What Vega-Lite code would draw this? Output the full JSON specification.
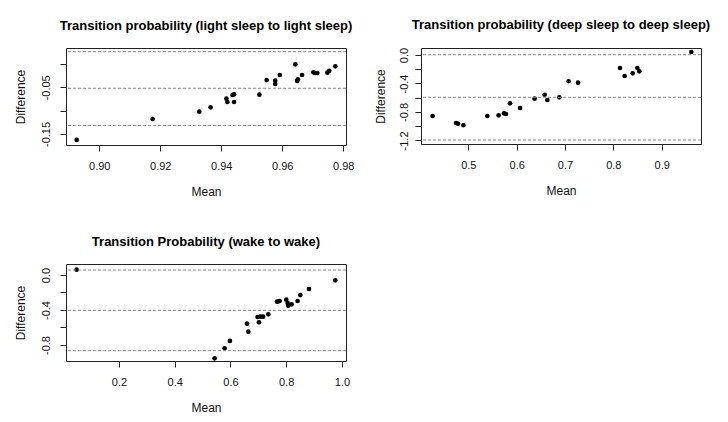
{
  "$schema": "https://vega.github.io/schema/vega-lite/v6.json",
  "autosize": {"type": "pad"},
  "padding": {"left": 13, "top": 18, "right": 5, "bottom": 5},
  "background": "white",
  "bounds": "flush",
  "columns": 2,
  "spacing": {"row": 119, "column": 75},
  "concat": [
    {
      "width": 280,
      "height": 97,
      "title": {"text": "Transition probability (light sleep to light sleep)", "frame": "group", "anchor": "middle", "offset": 5, "baseline": "alphabetic"},
      "resolve": {"axis": {"y": "independent"}},
      "layer": [
        {
          "data": {"values": [
            {"mean": 0.8926, "diff": -0.1628},
            {"mean": 0.9175, "diff": -0.1179},
            {"mean": 0.9328, "diff": -0.1022},
            {"mean": 0.9365, "diff": -0.0928},
            {"mean": 0.9417, "diff": -0.0744},
            {"mean": 0.9420, "diff": -0.0814},
            {"mean": 0.9437, "diff": -0.0664},
            {"mean": 0.9442, "diff": -0.0649},
            {"mean": 0.9442, "diff": -0.0814},
            {"mean": 0.9525, "diff": -0.0658},
            {"mean": 0.9549, "diff": -0.0343},
            {"mean": 0.9577, "diff": -0.0358},
            {"mean": 0.9577, "diff": -0.0429},
            {"mean": 0.9592, "diff": -0.0236},
            {"mean": 0.9643, "diff": -0.0006},
            {"mean": 0.9649, "diff": -0.0364},
            {"mean": 0.9651, "diff": -0.0328},
            {"mean": 0.9665, "diff": -0.0236},
            {"mean": 0.9702, "diff": -0.0178},
            {"mean": 0.9708, "diff": -0.0193},
            {"mean": 0.9715, "diff": -0.0193},
            {"mean": 0.9748, "diff": -0.0186},
            {"mean": 0.9754, "diff": -0.0144},
            {"mean": 0.9774, "diff": -0.0049}
          ]},
          "mark": {"type": "circle", "size": 22, "opacity": 1, "color": "#000"},
          "encoding": {
            "x": {"field": "mean", "type": "quantitative", "scale": {"domain": [0.8891, 0.9809], "nice": false, "zero": false},
                  "axis": {"title": "Mean", "values": [0.9, 0.92, 0.94, 0.96, 0.98], "format": ".2f", "labelOverlap": false, "labelFlush": false}},
            "y": {"field": "diff", "type": "quantitative", "scale": {"domain": [-0.1736, 0.0343], "nice": false, "zero": false},
                  "axis": {"orient": "left", "title": "Difference", "titleX": -42, "titleY": 48.5, "labels": false, "values": [0, -0.05, -0.1, -0.15]}}
          }
        },
        {
          "data": {"values": [{"diff": 0.0264}, {"diff": -0.052}, {"diff": -0.132}]},
          "mark": {"type": "rule", "strokeDash": [3, 2], "color": "#888", "strokeWidth": 1},
          "encoding": {"y": {"field": "diff", "type": "quantitative",
                  "axis": {"orient": "left", "title": null, "ticks": false, "labelPadding": 17, "values": [-0.05, -0.15], "labelOverlap": false, "labelFlush": false, "labelBound": false,
                           "labelExpr": "abs(datum.value + 0.05) < 0.001 ? '-0.05' : abs(datum.value + 0.15) < 0.001 ? '-0.15' : ''"}}}
        }
      ]
    },
    {
      "width": 280,
      "height": 96,
      "title": {"text": "Transition probability (deep sleep to deep sleep)", "frame": "group", "anchor": "middle", "offset": 5, "baseline": "alphabetic"},
      "resolve": {"axis": {"y": "independent"}},
      "layer": [
        {
          "data": {"values": [
            {"mean": 0.4261, "diff": -0.857},
            {"mean": 0.4746, "diff": -0.955},
            {"mean": 0.4787, "diff": -0.965},
            {"mean": 0.4897, "diff": -0.987},
            {"mean": 0.5393, "diff": -0.857},
            {"mean": 0.5627, "diff": -0.847},
            {"mean": 0.5739, "diff": -0.819},
            {"mean": 0.5780, "diff": -0.829},
            {"mean": 0.5863, "diff": -0.678},
            {"mean": 0.6070, "diff": -0.744},
            {"mean": 0.6372, "diff": -0.614},
            {"mean": 0.6579, "diff": -0.558},
            {"mean": 0.6635, "diff": -0.632},
            {"mean": 0.6883, "diff": -0.594},
            {"mean": 0.7075, "diff": -0.369},
            {"mean": 0.7270, "diff": -0.389},
            {"mean": 0.8139, "diff": -0.183},
            {"mean": 0.8234, "diff": -0.295},
            {"mean": 0.8400, "diff": -0.257},
            {"mean": 0.8497, "diff": -0.183},
            {"mean": 0.8538, "diff": -0.229},
            {"mean": 0.9614, "diff": 0.042}
          ]},
          "mark": {"type": "circle", "size": 22, "opacity": 1, "color": "#000"},
          "encoding": {
            "x": {"field": "mean", "type": "quantitative", "scale": {"domain": [0.4021, 0.9814], "nice": false, "zero": false},
                  "axis": {"title": "Mean", "values": [0.5, 0.6, 0.7, 0.8, 0.9], "format": ".1f", "labelOverlap": false, "labelFlush": false}},
            "y": {"field": "diff", "type": "quantitative", "scale": {"domain": [-1.25, 0.0983], "nice": false, "zero": false},
                  "axis": {"orient": "left", "title": "Difference", "titleX": -37, "titleY": 48, "labels": false, "values": [0, -0.2, -0.4, -0.6, -0.8, -1, -1.2]}}
          }
        },
        {
          "data": {"values": [{"diff": 0.004}, {"diff": -0.594}, {"diff": -1.194}]},
          "mark": {"type": "rule", "strokeDash": [3, 2], "color": "#888", "strokeWidth": 1},
          "encoding": {"y": {"field": "diff", "type": "quantitative",
                  "axis": {"orient": "left", "title": null, "ticks": false, "labelPadding": 14, "values": [0, -0.4, -0.8, -1.2], "labelOverlap": false, "labelFlush": false, "labelBound": false,
                           "labelExpr": "abs(datum.value) < 0.001 ? '0.0' : abs(datum.value + 0.4) < 0.001 ? '-0.4' : abs(datum.value + 0.8) < 0.001 ? '-0.8' : abs(datum.value + 1.2) < 0.001 ? '-1.2' : ''"}}}
        }
      ]
    },
    {
      "width": 280,
      "height": 97,
      "title": {"text": "Transition Probability (wake to wake)", "frame": "group", "anchor": "middle", "offset": 5, "baseline": "alphabetic"},
      "resolve": {"axis": {"y": "independent"}},
      "layer": [
        {
          "data": {"values": [
            {"mean": 0.048, "diff": 0.061},
            {"mean": 0.976, "diff": -0.061},
            {"mean": 0.8816, "diff": -0.160},
            {"mean": 0.8504, "diff": -0.229},
            {"mean": 0.8407, "diff": -0.297},
            {"mean": 0.8192, "diff": -0.335},
            {"mean": 0.8074, "diff": -0.351},
            {"mean": 0.8050, "diff": -0.320},
            {"mean": 0.8002, "diff": -0.282},
            {"mean": 0.7762, "diff": -0.297},
            {"mean": 0.7668, "diff": -0.305},
            {"mean": 0.7726, "diff": -0.300},
            {"mean": 0.7356, "diff": -0.449},
            {"mean": 0.7166, "diff": -0.476},
            {"mean": 0.7069, "diff": -0.476},
            {"mean": 0.6972, "diff": -0.480},
            {"mean": 0.7022, "diff": -0.541},
            {"mean": 0.6592, "diff": -0.556},
            {"mean": 0.6639, "diff": -0.648},
            {"mean": 0.5980, "diff": -0.754},
            {"mean": 0.5790, "diff": -0.838},
            {"mean": 0.5430, "diff": -0.952}
          ]},
          "mark": {"type": "circle", "size": 22, "opacity": 1, "color": "#000"},
          "encoding": {
            "x": {"field": "mean", "type": "quantitative", "scale": {"domain": [0.0099, 1.0144], "nice": false, "zero": false},
                  "axis": {"title": "Mean", "values": [0.2, 0.4, 0.6, 0.8, 1.0], "format": ".1f", "labelOverlap": false, "labelFlush": false}},
            "y": {"field": "diff", "type": "quantitative", "scale": {"domain": [-0.983, 0.1257], "nice": false, "zero": false},
                  "axis": {"orient": "left", "title": "Difference", "titleX": -42, "titleY": 48.5, "labels": false, "values": [0, -0.2, -0.4, -0.6, -0.8]}}
          }
        },
        {
          "data": {"values": [{"diff": 0.057}, {"diff": -0.404}, {"diff": -0.865}]},
          "mark": {"type": "rule", "strokeDash": [3, 2], "color": "#888", "strokeWidth": 1},
          "encoding": {"y": {"field": "diff", "type": "quantitative",
                  "axis": {"orient": "left", "title": null, "ticks": false, "labelPadding": 17, "values": [0, -0.4, -0.8], "labelOverlap": false, "labelFlush": false, "labelBound": false,
                           "labelExpr": "abs(datum.value) < 0.001 ? '0.0' : abs(datum.value + 0.4) < 0.001 ? '-0.4' : abs(datum.value + 0.8) < 0.001 ? '-0.8' : ''"}}}
        }
      ]
    }
  ],
  "config": {
    "font": "Liberation Sans",
    "view": {"stroke": "#222", "strokeWidth": 1},
    "title": {"font": "Liberation Sans", "fontSize": 13, "fontWeight": "bold", "color": "#000"},
    "axis": {
      "domain": false, "grid": false, "ticks": true, "tickColor": "#222", "tickSize": 6, "tickWidth": 1,
      "labelFont": "Liberation Sans", "labelFontSize": 11, "labelColor": "#111",
      "titleFont": "Liberation Sans", "titleFontSize": 12, "titleFontWeight": "normal", "titleColor": "#111",
      "labelOverlap": false, "labelFlush": false
    },
    "axisX": {"labelBaseline": "alphabetic", "labelPadding": 18, "labelAlign": "center", "titleBaseline": "alphabetic", "titleY": 50, "titleX": 140, "titleAlign": "center"},
    "axisY": {"labelAngle": 270, "labelAlign": "center", "labelBaseline": "alphabetic", "titleAngle": 270, "titleBaseline": "alphabetic", "titleAlign": "center"}
  }
}
